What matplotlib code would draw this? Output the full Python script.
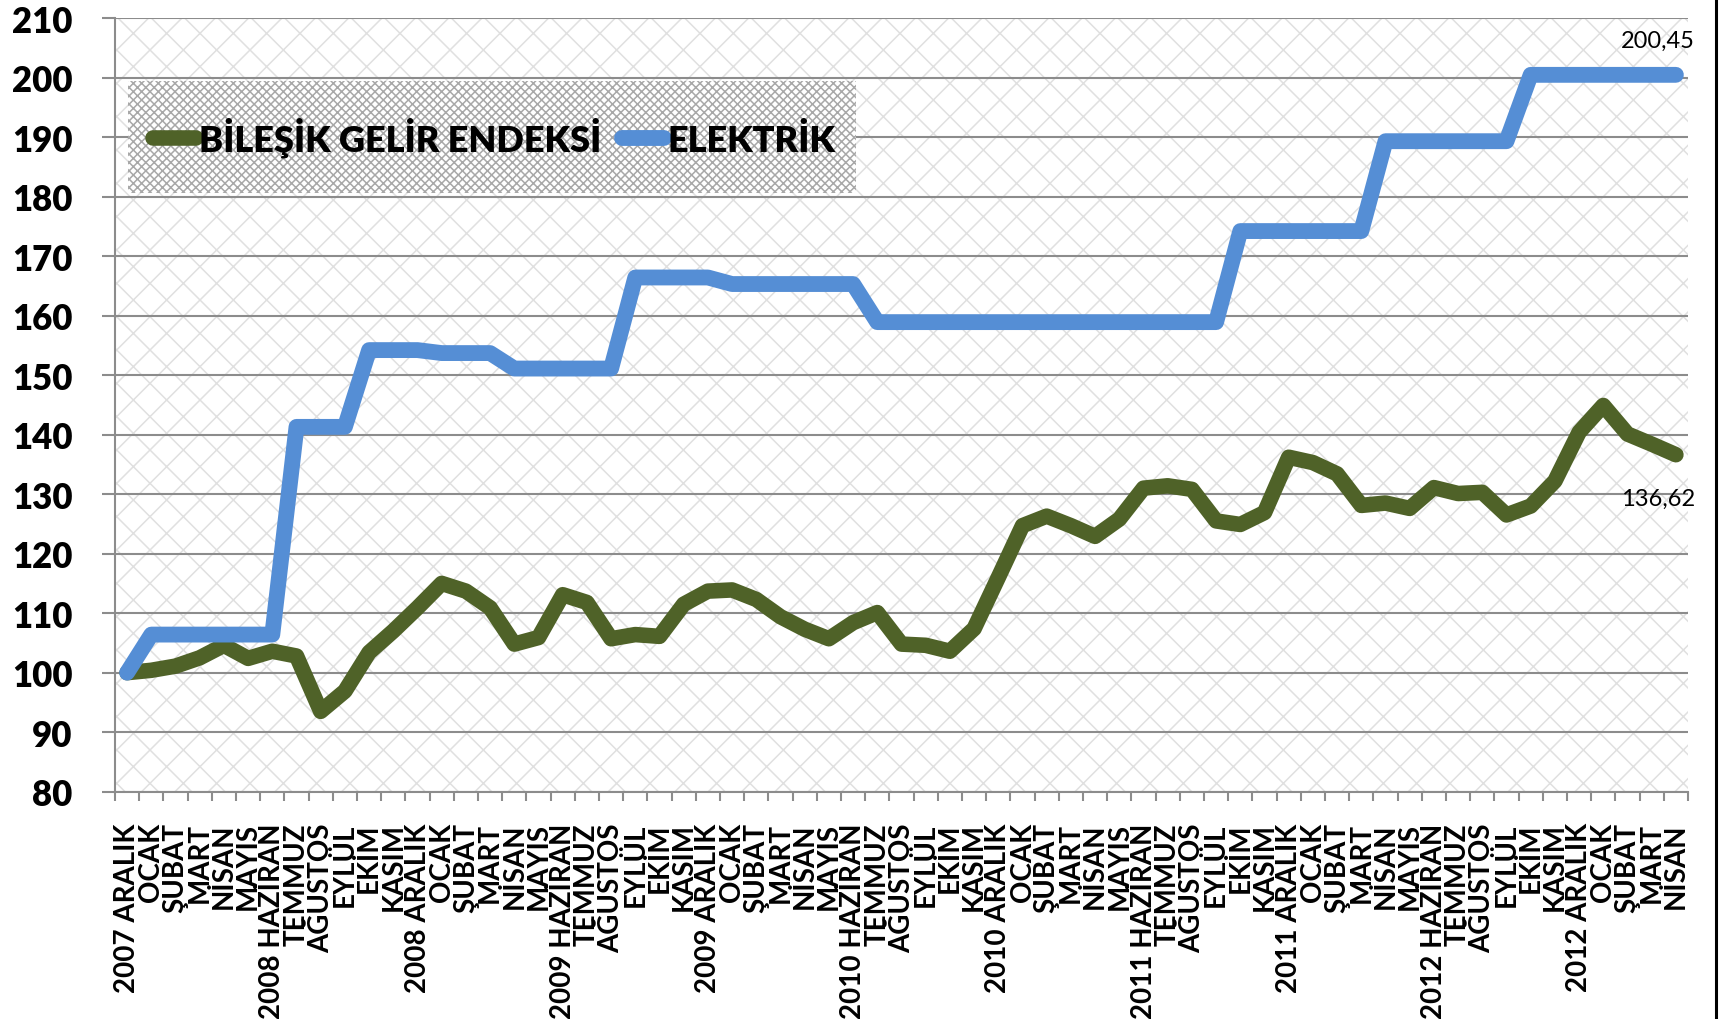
import matplotlib
matplotlib.use("Agg")
import matplotlib.pyplot as plt
from matplotlib.patches import Rectangle
from matplotlib.lines import Line2D
from matplotlib.font_manager import FontProperties
import numpy as np

months = ["2007 ARALIK", "OCAK", "ŞUBAT", "MART", "NİSAN", "MAYIS",
          "2008 HAZİRAN", "TEMMUZ", "AĞUSTOS", "EYLÜL", "EKİM", "KASIM",
          "2008 ARALIK", "OCAK", "ŞUBAT", "MART", "NİSAN", "MAYIS",
          "2009 HAZİRAN", "TEMMUZ", "AĞUSTOS", "EYLÜL", "EKİM", "KASIM",
          "2009 ARALIK", "OCAK", "ŞUBAT", "MART", "NİSAN", "MAYIS",
          "2010 HAZİRAN", "TEMMUZ", "AĞUSTOS", "EYLÜL", "EKİM", "KASIM",
          "2010 ARALIK", "OCAK", "ŞUBAT", "MART", "NİSAN", "MAYIS",
          "2011 HAZİRAN", "TEMMUZ", "AĞUSTOS", "EYLÜL", "EKİM", "KASIM",
          "2011 ARALIK", "OCAK", "ŞUBAT", "MART", "NİSAN", "MAYIS",
          "2012 HAZİRAN", "TEMMUZ", "AĞUSTOS", "EYLÜL", "EKİM", "KASIM",
          "2012 ARALIK", "OCAK", "ŞUBAT", "MART", "NİSAN"]

gelir = [100.0, 100.4, 101.1, 102.5, 104.6, 102.4,
         103.6, 102.8, 93.5, 96.9, 103.4, 107.0,
         110.9, 115.0, 113.7, 110.9, 104.8, 105.9,
         113.1, 111.8, 105.7, 106.4, 106.1, 111.5,
         113.7, 113.9, 112.3, 109.4, 107.3, 105.7,
         108.4, 110.1, 104.8, 104.6, 103.6, 107.4,
         116.0, 124.7, 126.3, 124.7, 122.9, 125.8,
         131.0, 131.4, 130.8, 125.5, 124.9, 126.9,
         136.2, 135.3, 133.4, 128.1, 128.5, 127.6,
         131.1, 130.1, 130.3, 126.5, 128.0, 132.2,
         140.4, 144.9, 140.1, 138.4, 136.62]

elektrik = [100.0, 106.4, 106.4, 106.4, 106.4, 106.4,
            106.4, 141.3, 141.3, 141.3, 154.2, 154.2,
            154.2, 153.7, 153.7, 153.7, 151.1, 151.1,
            151.1, 151.1, 151.1, 166.4, 166.4, 166.4,
            166.4, 165.3, 165.3, 165.3, 165.3, 165.3,
            165.3, 158.9, 158.9, 158.9, 158.9, 158.9,
            158.9, 158.9, 158.9, 158.9, 158.9, 158.9,
            158.9, 158.9, 158.9, 158.9, 174.2, 174.2,
            174.2, 174.2, 174.2, 174.2, 189.3, 189.3,
            189.3, 189.3, 189.3, 189.3, 200.45, 200.45,
            200.45, 200.45, 200.45, 200.45, 200.45]

series_names = ["BİLEŞİK GELİR ENDEKSİ", "ELEKTRİK"]
yticks = [80, 90, 100, 110, 120, 130, 140, 150, 160, 170, 180, 190, 200, 210]
end_labels = ["200,45", "136,62"]

GREEN = "#4F6228"
BLUE = "#558ED5"
GRID = "#8C8C8C"

plt.rcParams["hatch.linewidth"] = 1.1

W, H = 1719, 1020
fig = plt.figure(figsize=(W / 100, H / 100), dpi=100)
fig.patch.set_facecolor("white")

ax = fig.add_axes([115 / W, 1 - 792.7 / H, (1688 - 115) / W, (792.7 - 19) / H])
ax.patch.set_facecolor("white")
ax.patch.set_hatch("x")
ax.patch.set_edgecolor("#E0E0E0")
ax.patch.set_linewidth(0)

x = np.arange(len(months))
ax.plot(x, gelir, color=GREEN, lw=11.2, solid_capstyle="round",
        solid_joinstyle="round", label=series_names[0], zorder=3)
ax.plot(x, elektrik, color=BLUE, lw=11.4, solid_capstyle="round",
        solid_joinstyle="round", label=series_names[1], zorder=4)

ax.set_xlim(-0.5, len(months) - 0.5)
ax.set_ylim(80, 210)

for s in ["top", "right"]:
    ax.spines[s].set_visible(False)
for s in ["left", "bottom"]:
    ax.spines[s].set_color(GRID)
    ax.spines[s].set_linewidth(1.5)

ax.set_axisbelow(True)
ax.yaxis.grid(True, color=GRID, lw=1.5)

bold_big = FontProperties(family="Lato", weight="heavy", size=25)
ax.set_yticks(yticks)
ax.set_yticklabels([str(v) for v in yticks], fontproperties=bold_big)
ax.tick_params(axis="y", length=9.4, width=1.5, color=GRID, pad=21)

ax.set_xticks(x)
ax.set_xticklabels(months, rotation=90,
                   fontproperties=FontProperties(family="Lato", weight="bold", size=20))
ax.tick_params(axis="x", which="major", length=0, pad=22)
ax.set_xticks(np.arange(-0.5, len(months), 1.0), minor=True)
ax.tick_params(axis="x", which="minor", length=6.5, width=1.5, color=GRID)

ax.annotate(end_labels[0], xy=(x[-1], elektrik[-1]), xytext=(-18, 34),
            textcoords="offset pixels", ha="center", va="center",
            fontsize=17, family="Lato", zorder=6)
ax.annotate(end_labels[1], xy=(x[-1], gelir[-1]), xytext=(-18, -44),
            textcoords="offset pixels", ha="center", va="center",
            fontsize=17, family="Lato", zorder=6)

# legend background
fig.add_artist(Rectangle((128 / W, 1 - 194 / H), (856 - 128) / W, 112 / H,
                         transform=fig.transFigure, facecolor="white",
                         edgecolor="#A8A8A8", hatch="xxxx", lw=0, zorder=3))
handles, labels = ax.get_legend_handles_labels()
leg = fig.legend(handles, labels, loc="center",
                 bbox_to_anchor=(494.5 / W, 1 - 138 / H), ncol=2, frameon=False,
                 prop=FontProperties(family="Lato", weight="heavy", size=26),
                 handlelength=1.17, handletextpad=0.1, columnspacing=0.57,
                 borderpad=0)
leg.set_zorder(5)

fig.add_artist(Line2D([1715.5 / W, 1715.5 / W], [0, 1], transform=fig.transFigure,
                      color="black", lw=2.2))

fig.savefig("out.png", dpi=100)
